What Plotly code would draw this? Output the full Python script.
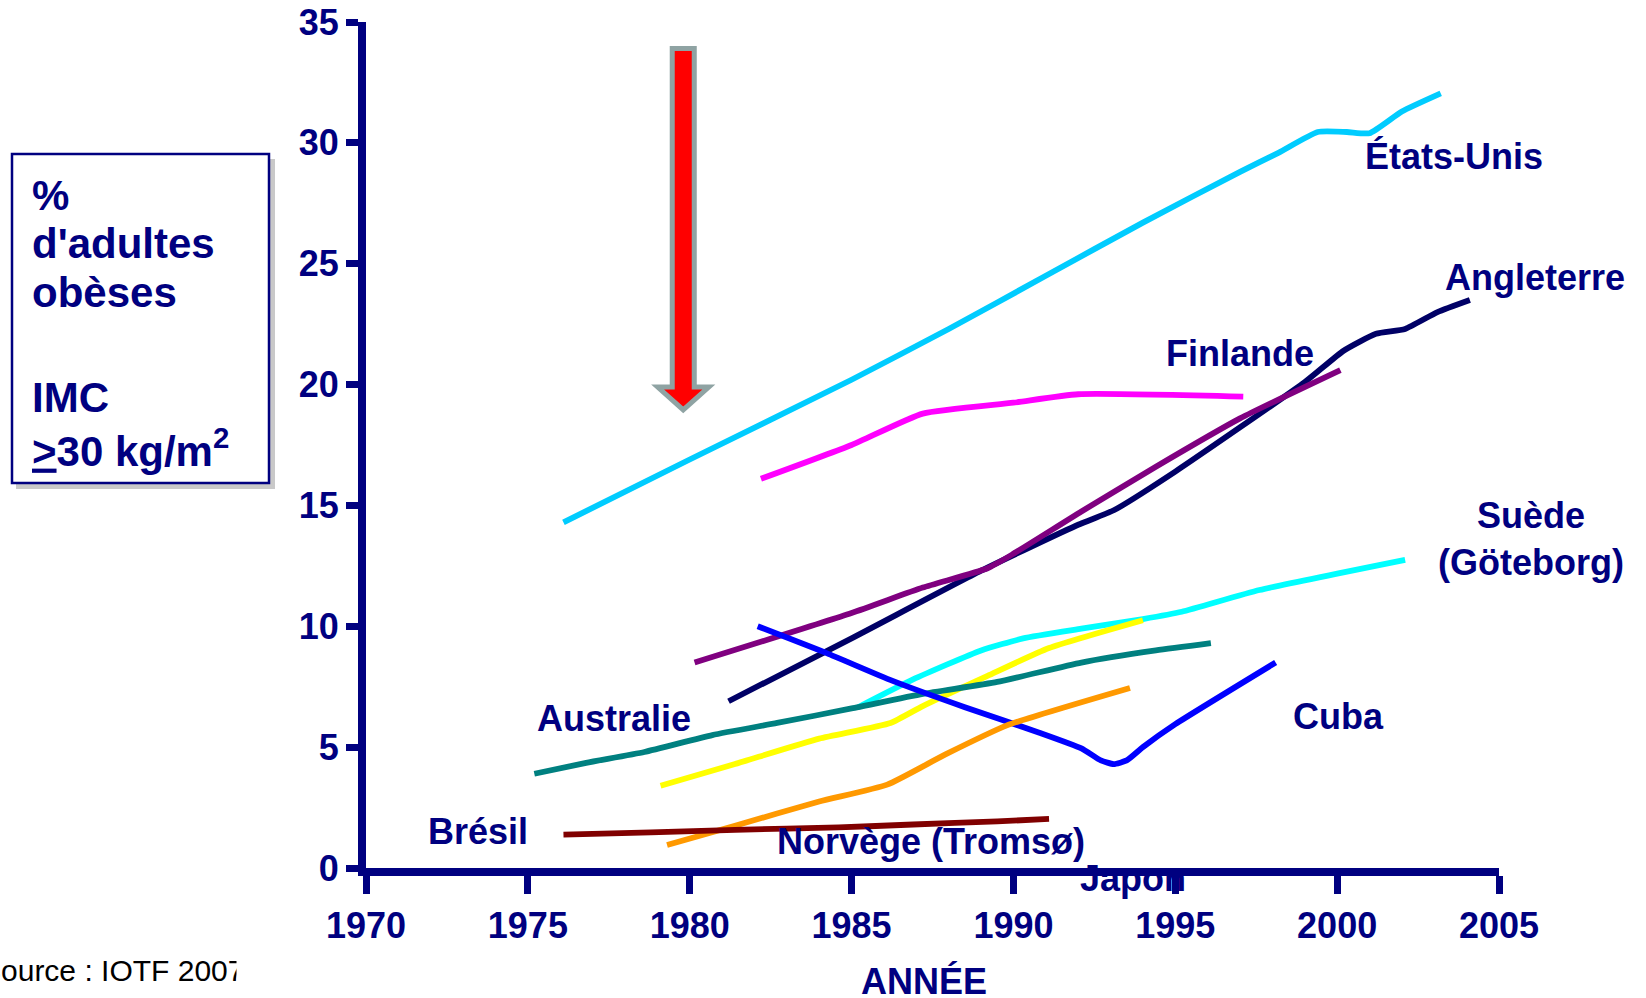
import plotly.graph_objects as go

# ---------------- data ----------------
usa_years = [1976.1, 1980, 1985, 1988, 1991, 1994, 1997, 1998.2, 1999.4, 2000.3, 2001.0, 2002.0, 2003.2]
usa_vals = [14.3, 16.9, 20.2, 22.3, 24.5, 26.7, 28.8, 29.6, 30.45, 30.45, 30.4, 31.3, 32.05]

eng_years = [1981.2, 1985, 1989, 1992, 1993.1, 1995, 1999, 2000.2, 2001.2, 2002.1, 2003.1, 2004.1]
eng_vals = [6.9, 9.5, 12.3, 14.2, 14.8, 16.4, 20.1, 21.4, 22.1, 22.3, 23.0, 23.5]

magenta_years = [1982.2, 1985, 1987.2, 1990, 1992, 1997.1]
magenta_vals = [16.1, 17.5, 18.8, 19.25, 19.6, 19.5]

purple_years = [1980.15, 1985, 1987.2, 1989.2, 1990, 1992.1, 1994.4, 1997, 2000.1]
purple_vals = [8.5, 10.55, 11.6, 12.4, 13.0, 14.75, 16.6, 18.6, 20.6]

swe_years = [1985.2, 1986.9, 1989.0, 1990.3, 1992.1, 1994.0, 1995.2, 1997.6, 2002.1]
swe_vals = [6.65, 7.8, 9.0, 9.5, 9.9, 10.3, 10.6, 11.5, 12.75]

yellow_years = [1979.1, 1981.4, 1984.0, 1986.2, 1987.2, 1989.2, 1991.1, 1994.0]
yellow_vals = [3.4, 4.3, 5.35, 6.0, 6.7, 7.95, 9.1, 10.25]

aus_years = [1975.2, 1976.8, 1978.6, 1980.7, 1982.7, 1985, 1987.2, 1989.5, 1992.1, 1994.4, 1996.1]
aus_vals = [3.9, 4.35, 4.8, 5.5, 6.0, 6.6, 7.2, 7.7, 8.5, 9.0, 9.3]

cuba_years = [1982.1, 1984.3, 1986.25, 1988.5, 1990.8, 1992.1, 1992.7, 1993.1, 1993.5, 1994.0, 1995.0, 1998.1]
cuba_vals = [10.0, 8.85, 7.75, 6.65, 5.6, 4.95, 4.45, 4.3, 4.45, 5.0, 5.95, 8.5]

orange_years = [1979.3, 1981.4, 1984.0, 1986.1, 1987.9, 1989.8, 1993.6]
orange_vals = [0.95, 1.75, 2.75, 3.45, 4.7, 5.9, 7.45]

bra_years = [1976.1, 1978.8, 1981.4, 1984.6, 1986.9, 1989.5, 1991.1]
bra_vals = [1.38, 1.47, 1.58, 1.68, 1.8, 1.93, 2.03]

x_ticks = [1970, 1975, 1980, 1985, 1990, 1995, 2000, 2005]
y_ticks = [0, 5, 10, 15, 20, 25, 30, 35]

# series labels: text, year, value
label_texts = ["États-Unis", "Angleterre", "Finlande", "Suède<br>(Göteborg)",
               "Australie", "Cuba", "Brésil", "Norvège (Tromsø)", "Japon"]
label_x = [2003.6, 2006.1, 1997.0, 2006.0, 1977.65, 2000.05, 1973.45, 1987.45, 1993.7]
label_y = [29.45, 24.45, 21.3, 13.6, 6.2, 6.25, 1.5, 1.08, -0.45]

box_lines = ["%", "d'adultes", "obèses", "IMC", "<u>></u>30 kg/m<sup>2</sup>"]

# ---------------- styling ----------------
NAVY = "#000080"
FONT = "Liberation Sans, Arial, sans-serif"
W, H = 1646, 998
L, R, T, B = 366, 147, 22, 130
PW, PH = W - L - R, H - T - B
X0, X1, Y0, Y1 = 1970, 2005, 0, 35


def px_x(px):
    return (px - L) / PW


def px_y(py):
    return (H - B - py) / PH


def yr_x(yr):
    return (yr - X0) / (X1 - X0)


def val_y(v):
    return (v - Y0) / (Y1 - Y0)


series = [
    ("États-Unis", usa_years, usa_vals, "#00CCFF"),
    ("Angleterre", eng_years, eng_vals, "#000066"),
    ("Série magenta", magenta_years, magenta_vals, "#FF00FF"),
    ("Finlande", purple_years, purple_vals, "#800080"),
    ("Suède (Göteborg)", swe_years, swe_vals, "#00FFFF"),
    ("Série jaune", yellow_years, yellow_vals, "#FFFF00"),
    ("Australie", aus_years, aus_vals, "#008080"),
    ("Cuba", cuba_years, cuba_vals, "#0000FF"),
    ("Norvège (Tromsø)", orange_years, orange_vals, "#FF9900"),
    ("Brésil", bra_years, bra_vals, "#800000"),
]

fig = go.Figure()
for name, xs, ys, col in series:
    fig.add_trace(go.Scatter(x=xs, y=ys, mode="lines", name=name,
                             line=dict(color=col, width=5.8, shape="spline", smoothing=0.5),
                             hoverinfo="x+y+name"))

annotations = []
for t, xv, yv in zip(label_texts, label_x, label_y):
    annotations.append(dict(x=yr_x(xv), y=val_y(yv), xref="paper", yref="paper", text=t,
                            showarrow=False,
                            font=dict(family=FONT, size=36, color=NAVY, weight="bold"),
                            xanchor="center", yanchor="middle", align="center"))

# the x-axis line passes over the top of "Japon": redraw that piece on top
annotations.append(dict(x=px_x(1200), y=px_y(872), xref="paper", yref="paper", text="",
                        showarrow=True, arrowhead=0, arrowwidth=8, arrowcolor=NAVY,
                        ax=-140, ay=0, standoff=0, startstandoff=0))

# axis title
annotations.append(dict(x=px_x(924), y=px_y(981), xref="paper", yref="paper", text="ANNÉE",
                        showarrow=False, font=dict(family=FONT, size=36, color=NAVY, weight="bold"),
                        xanchor="center", yanchor="middle"))

# box text
box_y = [195, 243, 293, 397, 448]
for t, yy in zip(box_lines, box_y):
    annotations.append(dict(x=px_x(30), y=px_y(yy), xref="paper", yref="paper", text=t,
                            showarrow=False, font=dict(family=FONT, size=42, color=NAVY, weight="bold"),
                            xanchor="left", yanchor="middle", align="left"))

# source (partly cut off at the page edge)
annotations.append(dict(x=px_x(-21), y=px_y(971), xref="paper", yref="paper", text="Source : IOTF 2007",
                        showarrow=False, font=dict(family=FONT, size=30, color="black"),
                        xanchor="left", yanchor="middle"))
annotations.append(dict(x=px_x(236), y=px_y(975), xref="paper", yref="paper", text=" ",
                        showarrow=False, bgcolor="white", width=40, height=36,
                        xanchor="left", yanchor="middle"))

shapes = [
    # box shadow + box
    dict(type="rect", xref="paper", yref="paper", x0=px_x(16), x1=px_x(275), y0=px_y(159), y1=px_y(489),
         fillcolor="rgba(120,120,120,0.40)", line=dict(width=0), layer="below"),
    dict(type="rect", xref="paper", yref="paper", x0=px_x(12), x1=px_x(269), y0=px_y(154), y1=px_y(483),
         fillcolor="white", line=dict(color=NAVY, width=2.5), layer="below"),
]

# red arrow (decoration)
AX, A_TOP, A_NECK, A_TIP, A_BODY, A_HEAD = 1979.8, 33.9, 19.9, 18.95, 0.34, 0.79
arrow_path = (f"M {AX - A_BODY},{A_TOP} L {AX + A_BODY},{A_TOP} L {AX + A_BODY},{A_NECK} "
              f"L {AX + A_HEAD},{A_NECK} L {AX},{A_TIP} L {AX - A_HEAD},{A_NECK} "
              f"L {AX - A_BODY},{A_NECK} Z")
shapes.append(dict(type="path", xref="x", yref="y", path=arrow_path, fillcolor="#FF0000",
                   line=dict(color="#8FA3A3", width=5), layer="above"))

fig.update_layout(
    width=W, height=H,
    margin=dict(l=L, r=R, t=T, b=B, pad=0, autoexpand=False),
    paper_bgcolor="white", plot_bgcolor="white",
    showlegend=False,
    annotations=annotations,
    shapes=shapes,
    xaxis=dict(range=[X0, X1], tickvals=x_ticks, showline=True, linewidth=8, linecolor=NAVY,
               ticks="outside", ticklen=18, tickwidth=7, tickcolor=NAVY,
               tickfont=dict(family=FONT, size=36, color=NAVY, weight="bold"),
               showgrid=False, zeroline=False, layer="above traces", ticklabelstandoff=1,
               automargin=False, fixedrange=True),
    yaxis=dict(range=[Y0, Y1], tickvals=y_ticks, showline=True, linewidth=8, linecolor=NAVY,
               ticks="outside", ticklen=12, tickwidth=7, tickcolor=NAVY,
               tickfont=dict(family=FONT, size=36, color=NAVY, weight="bold"),
               showgrid=False, zeroline=False, layer="above traces", ticklabelstandoff=0,
               automargin=False, fixedrange=True),
)

fig.write_html("out.html", config={"displayModeBar": False},
               post_script="document.body.style.margin='0';")
